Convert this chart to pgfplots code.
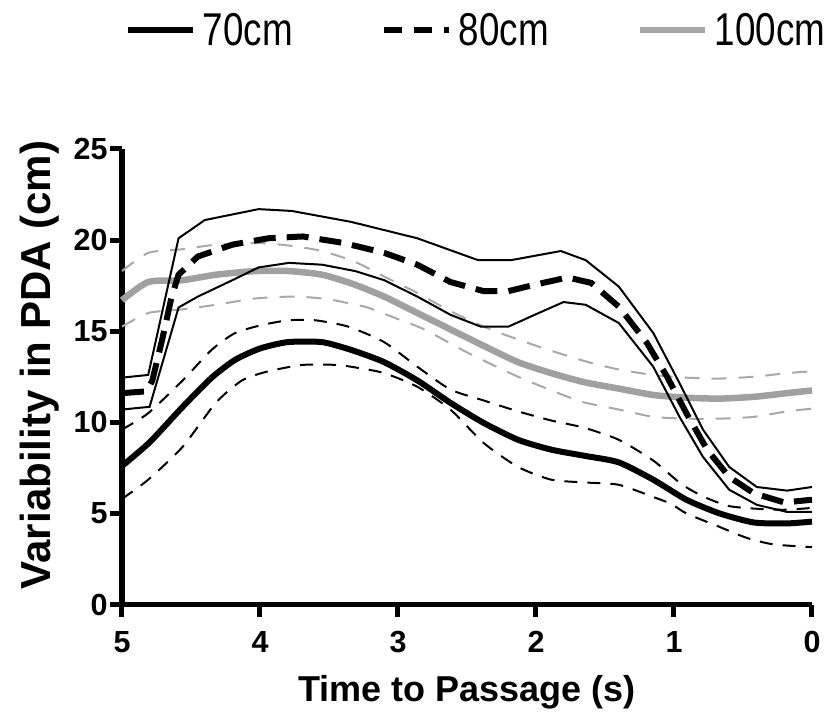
\documentclass[border=0pt]{standalone}
\usepackage{fontspec}
\setmainfont{Liberation Sans}
\newfontfamily\legfont{Liberation Sans}[FakeStretch=0.8]
\usepackage{pgfplots}
\pgfplotsset{compat=1.18}
\usepackage{pgfplotstable}
\definecolor{grayA}{RGB}{160,160,160}
\definecolor{grayB}{RGB}{168,168,168}

\pgfplotstableread{
t v
5.00 7.6
4.80 8.9
4.56 10.85
4.35 12.45
4.18 13.43
4.00 14.05
3.80 14.4
3.55 14.4
3.33 13.95
3.10 13.3
2.86 12.3
2.62 11.07
2.38 9.97
2.13 9.04
1.89 8.5
1.64 8.15
1.40 7.8
1.15 6.85
0.91 5.75
0.67 5.0
0.42 4.5
0.18 4.45
0.00 4.55
}\mA
\pgfplotstableread{
t v
5.00 5.8
4.81 6.85
4.56 8.66
4.32 11.07
4.13 12.3
3.94 12.8
3.69 13.15
3.45 13.15
3.30 13.0
3.10 12.7
2.86 11.95
2.62 10.7
2.38 8.87
2.13 7.55
1.89 6.85
1.65 6.7
1.40 6.57
1.15 5.9
1.02 5.52
0.91 5.0
0.67 4.26
0.47 3.65
0.28 3.3
0.00 3.15
}\lA
\pgfplotstableread{
t v
5.00 9.6
4.81 10.5
4.56 12.3
4.35 13.98
4.18 14.9
3.98 15.35
3.79 15.6
3.60 15.6
3.36 15.25
3.10 14.4
2.86 13.05
2.62 11.8
2.38 11.2
2.13 10.6
1.89 10.1
1.65 9.7
1.40 9.04
1.15 7.9
0.945 6.6
0.78 5.9
0.60 5.4
0.39 5.25
0.20 5.2
0.00 5.3
}\uA
\pgfplotstableread{
t v
5.00 11.6
4.82 11.7
4.78 12.3
4.71 14.5
4.64 16.9
4.59 18.1
4.45 19.1
4.20 19.75
3.94 20.1
3.69 20.2
3.40 19.85
3.10 19.3
2.86 18.65
2.62 17.7
2.38 17.2
2.20 17.2
2.01 17.55
1.77 17.95
1.60 17.65
1.40 16.35
1.20 14.4
1.05 12.5
0.91 10.5
0.76 8.5
0.60 7.0
0.42 6.1
0.20 5.6
0.00 5.75
}\mB
\pgfplotstableread{
t v
5.00 12.45
4.81 12.6
4.59 20.1
4.40 21.1
4.01 21.7
3.77 21.6
3.34 21.0
2.86 20.1
2.42 18.9
2.18 18.9
1.82 19.4
1.64 18.9
1.40 17.45
1.15 14.9
0.96 12.15
0.79 9.6
0.60 7.55
0.40 6.45
0.18 6.25
0.00 6.45
}\uB
\pgfplotstableread{
t v
5.00 10.7
4.80 10.85
4.59 16.3
4.45 16.9
4.20 17.8
4.01 18.5
3.79 18.75
3.55 18.65
3.31 18.3
3.10 17.8
2.86 16.9
2.62 15.9
2.40 15.25
2.20 15.25
1.98 16.0
1.80 16.6
1.64 16.45
1.40 15.45
1.15 13.05
0.96 10.3
0.79 8.1
0.60 6.3
0.40 5.47
0.18 5.08
0.00 5.08
}\lB
\pgfplotstableread{
t v
5.00 16.7
4.81 17.7
4.56 17.8
4.32 18.1
4.03 18.3
3.79 18.3
3.55 18.1
3.33 17.6
3.10 16.9
2.86 16.0
2.62 15.1
2.38 14.2
2.13 13.3
1.89 12.7
1.65 12.2
1.40 11.85
1.15 11.5
0.91 11.35
0.67 11.3
0.42 11.4
0.18 11.6
0.00 11.75
}\mC
\pgfplotstableread{
t v
5.00 18.3
4.81 19.3
4.56 19.5
4.32 19.75
4.03 19.85
3.79 19.7
3.55 19.4
3.31 18.8
3.10 18.0
2.86 17.1
2.62 16.1
2.33 15.1
1.96 14.1
1.62 13.3
1.40 12.9
1.15 12.6
0.91 12.45
0.67 12.4
0.42 12.5
0.18 12.7
0.00 12.8
}\uC
\pgfplotstableread{
t v
5.00 15.25
4.81 16.0
4.56 16.2
4.32 16.45
4.03 16.8
3.74 16.9
3.50 16.75
3.31 16.45
3.22 16.3
3.03 15.75
2.81 15.1
2.49 13.8
2.13 12.5
1.77 11.4
1.64 11.07
1.40 10.7
1.15 10.3
0.91 10.2
0.67 10.2
0.42 10.3
0.18 10.6
0.00 10.75
}\lC

\begin{document}
\begin{tikzpicture}
\useasboundingbox (-122bp,-110.5bp) rectangle (704bp,604.5bp);
\begin{axis}[
  at={(0,0)}, anchor=south west,
  scale only axis, width=690bp, height=455.5bp,
  x dir=reverse,
  xmin=0, xmax=5, ymin=0, ymax=25,
  enlargelimits=false, clip=false,
  xtick={0,1,2,3,4,5}, ytick={0,5,10,15,20,25},
  axis x line=bottom, axis y line=left,
  axis line style={-, line width=5.5bp, black},
  tick align=outside, major tick length=12bp,
  tick style={line width=5bp, black},
  /pgf/number format/assume math mode=true,
  tick label style={font=\bfseries\fontsize{30.5bp}{32bp}\selectfont},
  xticklabel style={yshift=-11bp},
  yticklabel style={xshift=1bp},
  xlabel={Time to Passage (s)},
  ylabel={Variability in PDA (cm)},
  xlabel style={font=\bfseries\fontsize{36bp}{40bp}\selectfont, at={(axis description cs:0.5,-0.2140)}, anchor=base},
  ylabel style={font=\bfseries\fontsize{42bp}{46bp}\selectfont, at={(axis description cs:-0.1043,0.5258)}, anchor=base},
  legend columns=3,
  legend image code/.code={\draw[#1] (0bp,0bp) -- (65bp,0bp);},
  legend style={at={(axis description cs:0.0043,1.2613)}, anchor=west,
    draw=none, fill=none, inner sep=0pt, outer sep=0pt,
    font=\legfont\fontsize{46bp}{48bp}\selectfont,
    /tikz/every odd column/.append style={column sep=5bp},
    /tikz/every even column/.append style={column sep=86bp}},
]
\addlegendimage{black, line width=6bp}
\addlegendentry{70cm}
\addlegendimage{black, line width=6bp, dash pattern=on 18bp off 12bp}
\addlegendentry{80cm}
\addlegendimage{grayB, line width=6bp}
\addlegendentry{100cm}

\addplot[forget plot, smooth, tension=0.4, grayB, line width=2bp, dash pattern=on 15bp off 12bp] table[x=t,y=v] {\uC};
\addplot[forget plot, smooth, tension=0.4, grayB, line width=2bp, dash pattern=on 15bp off 12bp] table[x=t,y=v] {\lC};
\addplot[forget plot, smooth, tension=0.4, grayA, line width=6.5bp] table[x=t,y=v] {\mC};
\addplot[forget plot, smooth, tension=0.4, black, line width=2bp, dash pattern=on 13bp off 10bp] table[x=t,y=v] {\uA};
\addplot[forget plot, smooth, tension=0.4, black, line width=2bp, dash pattern=on 13bp off 10bp] table[x=t,y=v] {\lA};
\addplot[forget plot, black, line width=2bp] table[x=t,y=v] {\uB};
\addplot[forget plot, black, line width=2bp] table[x=t,y=v] {\lB};
\addplot[forget plot, smooth, tension=0.4, black, line width=6bp] table[x=t,y=v] {\mA};
\addplot[forget plot, black, line width=6bp, dash pattern=on 22bp off 11bp] table[x=t,y=v] {\mB};
\end{axis}
\end{tikzpicture}
\end{document}
